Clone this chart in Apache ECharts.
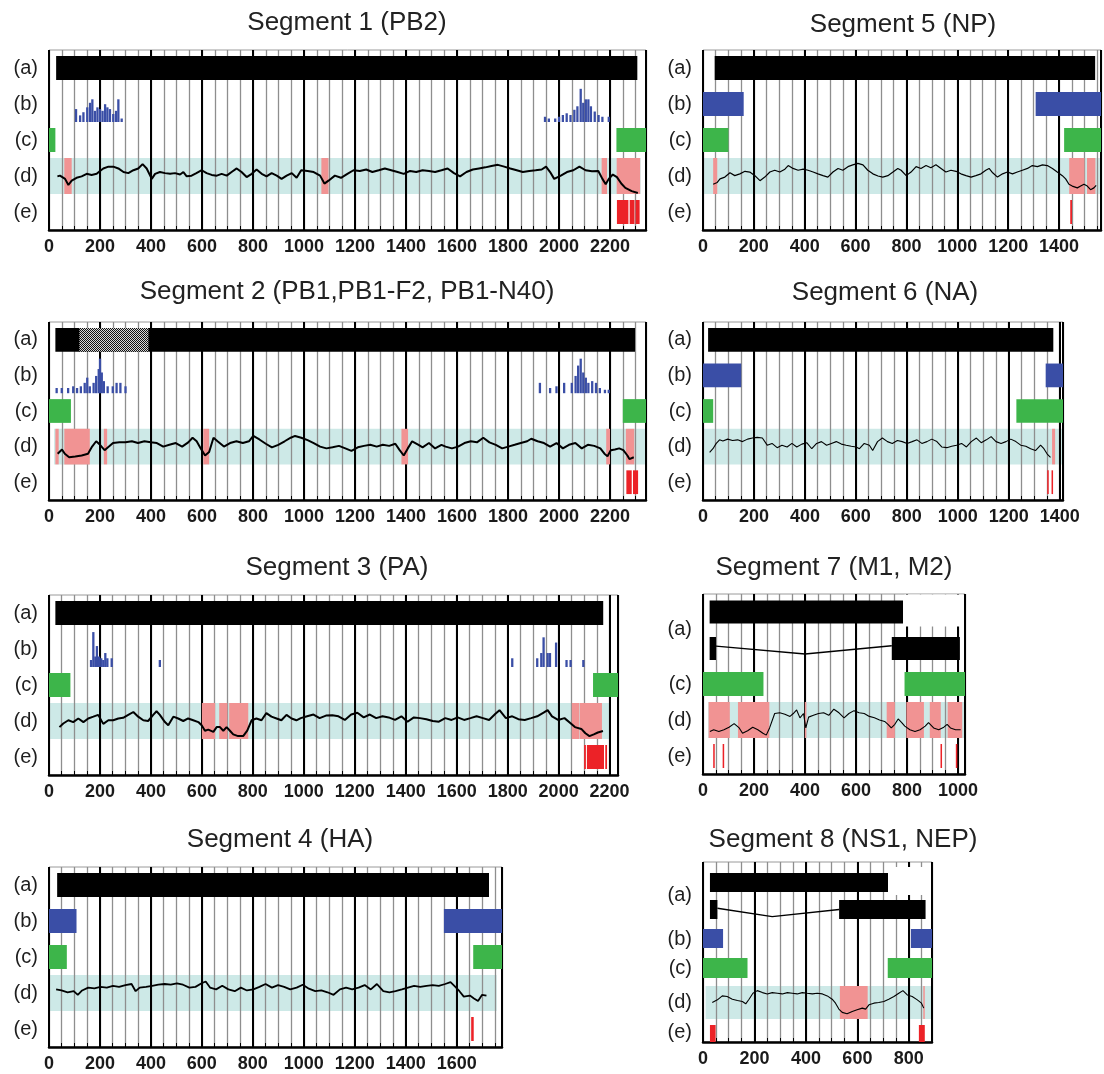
<!DOCTYPE html>
<html><head><meta charset="utf-8">
<script src="https://cdn.jsdelivr.net/npm/echarts@6/dist/echarts.min.js"></script>
<style>html,body{margin:0;padding:0;background:#fff}#c{width:1104px;height:1074px}</style>
</head><body><div id="c"></div>
<script>
// ================= DATA =================
const titles = ['Segment 1 (PB2)','Segment 2 (PB1,PB1-F2, PB1-N40)','Segment 3 (PA)','Segment 4 (HA)',
                'Segment 5 (NP)','Segment 6 (NA)','Segment 7 (M1, M2)','Segment 8 (NS1, NEP)'];
const lengths = [2341, 2341, 2233, 1778, 1565, 1413, 1027, 890];
const tickStep = 200, minorStep = 50;

// Segment 1 (PB2)
const seg1Coding = [[28,2307]];
const seg1Hist = [[106,.37],[122,.19],[135,.28],[150,.42],[161,.55],[170,.65],[180,.32],[190,.42],[200,.37],[210,.32],[220,.51],[229,.42],[239,.37],[252,.23],[263,.32],[272,.65],[285,.10],
  [1945,.15],[1960,.10],[1985,.10],[2000,.15],[2015,.20],[2030,.25],[2045,.20],[2060,.35],[2072,.45],[2085,.95],[2095,.55],[2105,.65],[2115,.65],[2125,.45],[2140,.30],[2155,.20],[2170,.15],[2195,.15]];
const seg1Green = [[0,25],[2225,2341]];
const seg1Band = [[0,2320]];
const seg1Pink = [[60,89],[1068,1096],[2167,2188],[2226,2318]];
const seg1Red = [[2227,2272],[2277,2296],[2300,2316]];
const seg1Curve = [[33,.49],[43,.51],[63,.42],[76,.25],[89,.37],[108,.45],[128,.49],[148,.56],[167,.53],[187,.56],[200,.64],[213,.71],[233,.76],[252,.76],[272,.71],[292,.61],[311,.58],[331,.66],[350,.71],[367,.83],[383,.71],[403,.42],[416,.56],[435,.61],[455,.58],[475,.56],[494,.58],[514,.54],[527,.61],[540,.49],[559,.51],[578,.58],[599,.66],[618,.58],[638,.53],[658,.51],[677,.56],[697,.51],[716,.61],[736,.71],[755,.61],[775,.47],[795,.56],[814,.68],[834,.56],[853,.49],[873,.58],[893,.51],[912,.42],[932,.51],[952,.58],[971,.45],[989,.66],[1014,.64],[1038,.61],[1063,.51],[1080,.29],[1096,.37],[1121,.51],[1145,.45],[1170,.56],[1194,.66],[1219,.64],[1244,.68],[1268,.61],[1293,.66],[1317,.71],[1342,.66],[1367,.61],[1391,.56],[1416,.64],[1440,.61],[1465,.66],[1490,.64],[1514,.61],[1539,.66],[1563,.71],[1588,.58],[1612,.49],[1637,.61],[1662,.68],[1686,.71],[1711,.74],[1735,.78],[1760,.81],[1785,.76],[1809,.71],[1834,.66],[1858,.61],[1883,.64],[1908,.66],[1932,.68],[1949,.76],[1965,.61],[1981,.42],[2007,.51],[2031,.61],[2056,.66],[2080,.76],[2104,.66],[2129,.63],[2154,.64],[2170,.42],[2183,.27],[2195,.42],[2211,.54],[2227,.47],[2244,.29],[2260,.17],[2285,.08],[2309,.03]];

// Segment 2 (PB1, PB1-F2, PB1-N40)
const seg2Coding = [[25,2298]];
const seg2Overlap = [[119,390]];
const seg2Hist = [[30,.15],[50,.15],[75,.15],[95,.2],[110,.15],[125,.2],[140,.3],[150,.45],[160,.2],[175,.3],[185,.5],[195,.7],[200,1.0],[207,.6],[215,.35],[230,.2],[250,.2],[265,.3],[280,.3],[300,.2],
  [1925,.3],[1965,.15],[1990,.2],[2020,.3],[2050,.3],[2065,.5],[2075,.8],[2085,1.0],[2095,.6],[2105,.45],[2115,.3],[2130,.35],[2145,.3],[2160,.15],[2180,.1],[2195,.1]];
const seg2Green = [[0,86],[2250,2341]];
const seg2Band = [[20,2341]];
const seg2Pink = [[25,38],[60,160],[215,228],[605,628],[1382,1408],[2185,2200],[2262,2295]];
const seg2Red = [[2264,2285],[2290,2310]];
const seg2Curve = [[34,.30],[51,.42],[62,.30],[79,.20],[103,.22],[128,.25],[153,.30],[169,.50],[185,.65],[200,.55],[218,.40],[235,.50],[251,.60],[276,.62],[300,.62],[325,.65],[349,.60],[374,.65],[399,.62],[423,.60],[448,.50],[472,.55],[497,.60],[522,.50],[546,.62],[563,.75],[579,.65],[595,.45],[612,.25],[628,.35],[645,.75],[661,.65],[686,.50],[710,.60],[735,.65],[760,.60],[784,.65],[801,.80],[825,.70],[850,.58],[874,.48],[899,.55],[924,.65],[948,.75],[965,.80],[989,.75],[1014,.68],[1038,.60],[1063,.50],[1088,.45],[1112,.48],[1137,.52],[1162,.45],[1186,.38],[1211,.48],[1235,.52],[1260,.55],[1285,.50],[1309,.55],[1334,.52],[1358,.58],[1375,.40],[1391,.25],[1407,.45],[1424,.65],[1449,.55],[1465,.48],[1490,.60],[1514,.45],[1539,.55],[1555,.50],[1580,.45],[1604,.50],[1629,.60],[1654,.65],[1678,.62],[1703,.75],[1727,.62],[1752,.55],[1777,.45],[1801,.50],[1826,.55],[1850,.60],[1875,.65],[1891,.72],[1916,.65],[1941,.60],[1965,.50],[1990,.60],[2015,.45],[2039,.55],[2064,.60],[2089,.45],[2113,.55],[2138,.52],[2162,.45],[2178,.30],[2190,.23],[2203,.40],[2219,.42],[2236,.45],[2252,.40],[2268,.25],[2276,.15],[2293,.20]];

// Segment 3 (PA)
const seg3Coding = [[25,2175]];
const seg3Hist = [[165,.2],[174,1.0],[182,.3],[188,.6],[196,.3],[205,.25],[213,.2],[221,.4],[229,.25],[246,.25],[435,.2],
  [1818,.25],[1916,.25],[1932,.4],[1941,.85],[1957,.4],[1966,.4],[1990,.7],[2031,.2],[2047,.2],[2097,.2]];
const seg3Green = [[0,84],[2135,2233]];
const seg3Band = [[0,2205]];
const seg3Pink = [[600,652],[668,700],[707,782],[2052,2080],[2082,2170]];
const seg3Red = [[2100,2107],[2111,2178],[2183,2190]];
const seg3Curve = [[41,.33],[56,.43],[76,.52],[95,.47],[115,.57],[135,.47],[154,.57],[174,.62],[193,.67],[213,.42],[233,.52],[252,.52],[272,.57],[291,.59],[311,.67],[331,.75],[350,.62],[370,.52],[389,.50],[409,.67],[422,.77],[435,.67],[455,.47],[468,.38],[488,.62],[507,.57],[527,.50],[546,.57],[566,.52],[586,.47],[599,.38],[612,.23],[625,.26],[645,.20],[658,.33],[671,.33],[684,.23],[697,.33],[710,.23],[723,.13],[742,.08],[762,.08],[778,.23],[795,.52],[814,.57],[834,.52],[853,.72],[873,.62],[893,.57],[912,.52],[932,.67],[952,.57],[971,.52],[988,.58],[1013,.63],[1038,.68],[1062,.58],[1087,.65],[1112,.66],[1136,.63],[1161,.53],[1186,.68],[1210,.73],[1235,.60],[1259,.68],[1284,.58],[1309,.63],[1333,.60],[1358,.53],[1383,.63],[1407,.48],[1432,.60],[1456,.58],[1481,.55],[1506,.50],[1530,.48],[1555,.58],[1580,.53],[1604,.60],[1629,.53],[1654,.58],[1678,.63],[1703,.58],[1727,.53],[1752,.70],[1768,.80],[1793,.58],[1818,.63],[1842,.55],[1867,.53],[1892,.58],[1916,.63],[1941,.73],[1957,.80],[1974,.63],[1998,.53],[2023,.58],[2048,.43],[2064,.33],[2089,.28],[2105,.16],[2121,.08],[2138,.13],[2154,.18],[2174,.22]];

// Segment 4 (HA)
const seg4Coding = [[32,1727]];
const seg4Blue = [[0,108],[1550,1778]];
const seg4Green = [[0,70],[1665,1778]];
const seg4Band = [[0,1757]];
const seg4Red = [[1657,1667]];
const seg4Curve = [[28,.60],[49,.57],[73,.52],[97,.55],[113,.45],[130,.57],[154,.65],[178,.63],[202,.67],[227,.65],[251,.70],[275,.67],[300,.72],[324,.75],[340,.55],[356,.65],[381,.67],[405,.70],[429,.73],[454,.75],[478,.73],[502,.77],[526,.73],[551,.65],[575,.67],[599,.77],[615,.82],[632,.65],[656,.60],[680,.70],[704,.60],[729,.55],[753,.65],[777,.57],[802,.60],[826,.67],[850,.75],[875,.65],[899,.72],[923,.67],[947,.60],[972,.65],[996,.73],[1020,.62],[1045,.55],[1069,.57],[1093,.52],[1117,.45],[1142,.60],[1166,.65],[1190,.60],[1215,.65],[1239,.72],[1263,.60],[1287,.75],[1312,.55],[1336,.52],[1360,.55],[1385,.60],[1409,.65],[1433,.70],[1457,.67],[1482,.70],[1506,.72],[1530,.70],[1555,.75],[1576,.80],[1595,.67],[1611,.55],[1628,.40],[1652,.43],[1668,.35],[1684,.28],[1700,.45],[1717,.43]];

// Segment 5 (NP)
const seg5Coding = [[46,1542]];
const seg5Blue = [[0,160],[1308,1565]];
const seg5Green = [[0,100],[1420,1565]];
const seg5Band = [[0,1565]];
const seg5Pink = [[40,56],[1440,1500],[1510,1543]];
const seg5Red = [[1444,1451]];
const seg5Curve = [[40,.27],[56,.32],[67,.42],[86,.47],[106,.59],[125,.51],[145,.56],[165,.63],[184,.61],[204,.51],[224,.37],[243,.47],[263,.61],[282,.66],[302,.61],[322,.69],[335,.79],[354,.71],[374,.66],[394,.69],[413,.66],[433,.61],[452,.56],[472,.51],[491,.47],[511,.61],[531,.71],[550,.66],[570,.76],[589,.81],[609,.85],[629,.81],[648,.66],[668,.56],[688,.50],[707,.47],[727,.51],[747,.61],[766,.71],[779,.66],[799,.51],[818,.61],[838,.76],[857,.71],[877,.79],[896,.73],[916,.81],[936,.71],[955,.61],[975,.66],[995,.63],[1014,.56],[1034,.51],[1054,.47],[1073,.51],[1093,.56],[1112,.66],[1125,.71],[1139,.59],[1158,.47],[1178,.56],[1197,.61],[1217,.56],[1236,.61],[1256,.66],[1276,.71],[1295,.79],[1315,.76],[1335,.81],[1354,.79],[1374,.71],[1393,.61],[1413,.51],[1426,.42],[1439,.27],[1452,.22],[1472,.17],[1485,.22],[1498,.27],[1511,.22],[1524,.12],[1537,.17],[1546,.24]];

// Segment 6 (NA)
const seg6Coding = [[20,1375]];
const seg6Blue = [[0,150],[1345,1413]];
const seg6Green = [[0,40],[1230,1413]];
const seg6Band = [[0,1410]];
const seg6Pink = [[1370,1382]];
const seg6Red = [[1351,1357],[1368,1374]];
const seg6Curve = [[26,.34],[39,.44],[52,.59],[65,.69],[78,.66],[97,.71],[116,.67],[136,.69],[155,.64],[175,.71],[194,.74],[213,.76],[233,.74],[252,.54],[271,.59],[291,.47],[310,.54],[330,.49],[349,.59],[368,.49],[388,.57],[407,.61],[427,.44],[446,.59],[465,.64],[485,.54],[504,.59],[523,.64],[543,.57],[562,.54],[582,.51],[601,.49],[614,.44],[633,.59],[653,.54],[666,.39],[685,.64],[704,.74],[724,.64],[743,.59],[763,.67],[782,.64],[801,.59],[821,.64],[840,.69],[859,.59],[879,.64],[898,.71],[918,.64],[937,.49],[957,.47],[976,.51],[995,.54],[1015,.59],[1034,.49],[1053,.64],[1073,.74],[1092,.61],[1112,.69],[1131,.78],[1150,.64],[1170,.59],[1189,.64],[1208,.71],[1228,.64],[1247,.54],[1267,.51],[1286,.44],[1305,.39],[1325,.54],[1338,.44],[1351,.29],[1364,.20]];

// Segment 7 (M1, M2)
const seg7M1 = [[26,784]];
const seg7M1Blank = [[790,1020]];
const seg7M2Exons = [[26,51],[740,1007]];
const seg7M2Intron = [[51,-0.2],[400,0.48],[740,-0.24]];
const seg7Green = [[0,237],[790,1027]];
const seg7Band = [[20,1027]];
const seg7Pink = [[22,105],[137,260],[399,405],[720,752],[797,866],[889,932],[959,1016]];
const seg7Red = [[40,46],[77,83],[931,937],[991,997]];
const seg7Curve = [[27,.18],[42,.23],[62,.18],[82,.23],[102,.30],[122,.40],[142,.28],[155,.13],[175,.20],[195,.30],[215,.23],[235,.13],[248,.08],[261,.28],[281,.68],[301,.70],[321,.66],[341,.60],[354,.68],[367,.78],[380,.56],[394,.68],[403,.28],[414,.58],[433,.63],[453,.68],[473,.70],[493,.63],[513,.80],[533,.70],[553,.56],[572,.68],[592,.76],[612,.70],[632,.68],[652,.60],[672,.56],[692,.50],[712,.46],[725,.38],[738,.28],[752,.38],[765,.53],[779,.43],[791,.33],[811,.23],[831,.18],[851,.23],[871,.33],[884,.43],[904,.28],[924,.23],[944,.30],[957,.38],[970,.28],[990,.23],[1010,.23]];

// Segment 8 (NS1, NEP)
const seg8NS1 = [[27,719]];
const seg8NS1Blank = [[724,872]];
const seg8NEPExons = [[27,56],[529,865]];
const seg8NEPIntron = [[56,-0.13],[269,0.76],[529,0]];
const seg8Blue = [[0,78],[808,890]];
const seg8Green = [[0,173],[718,890]];
const seg8Band = [[10,890]];
const seg8Pink = [[532,640],[856,862]];
const seg8Red = [[27,49],[839,862]];
const seg8Curve = [[36,.50],[56,.58],[75,.70],[94,.68],[114,.60],[134,.56],[153,.53],[166,.46],[179,.60],[194,.78],[211,.86],[231,.80],[250,.76],[269,.80],[289,.78],[308,.76],[328,.80],[347,.78],[366,.76],[386,.80],[405,.78],[425,.76],[444,.78],[464,.76],[483,.70],[502,.60],[515,.48],[528,.30],[541,.20],[560,.16],[580,.23],[599,.28],[619,.33],[632,.30],[645,.43],[664,.48],[683,.50],[703,.53],[722,.60],[742,.68],[761,.78],[777,.86],[794,.73],[813,.68],[833,.58],[849,.48],[858,.33]];

// ================= LAYOUT / STYLE =================
const FONT = '"Liberation Sans", Arial, Helvetica, sans-serif';
const K = {black:0, blue:1, green:2, pink:3, red:4, hatch:5, white:6, cyan:7};
const hatchCanvas = document.createElement('canvas');
hatchCanvas.width = 4; hatchCanvas.height = 4;
(function(){ const g = hatchCanvas.getContext('2d'); g.fillStyle = '#d8d8d8'; g.fillRect(0,0,4,4); g.fillStyle = '#111';
  for (let y=0;y<4;y++) for (let x=0;x<4;x++) if ((x+y)%2===0) g.fillRect(x,y,1,1); })();
const FILLS = ['#000000','#3a4ea6','#3db54a','#f19393','#ec2227',{image:hatchCanvas, repeat:'repeat'},'#ffffff','#cde9e7'];

function stdRows(H){ const rh = H/5; return {
  a:{c:rh*0.5,h:rh/3}, b:{c:rh*1.5,h:rh/3,base:rh*2,full:rh*0.97}, c:{c:rh*2.5,h:rh/3},
  d:{top:rh*3,bot:rh*4}, e:{c:rh*4.5,h:rh/3},
  labels:[['(a)',rh*0.5],['(b)',rh*1.5],['(c)',rh*2.5],['(d)',rh*3.5],['(e)',rh*4.5]] }; }
const seg7Rows = { a:{c:18,h:11.5}, a2:{c:54.5,h:11.5}, c:{c:90,h:12}, d:{top:108,bot:144}, e:{c:162,h:12},
  labels:[['(a)',35],['(c)',90],['(d)',126],['(e)',162]] };
const seg8Rows = { a:{c:20.5,h:9.5}, a2:{c:47.5,h:9.5}, b:{c:76.5,h:9.5}, c:{c:106,h:10}, d:{top:124,bot:157}, e:{c:171.5,h:8.5},
  labels:[['(a)',33],['(b)',77],['(c)',106],['(d)',140.5],['(e)',170]] };

const panels = [
  {left:49, top:50,  width:597, height:180, tx:347, ty:23,  lw:2,   rows:stdRows(180),
   a:seg1Coding, hist:seg1Hist, green:seg1Green, band:seg1Band, pink:seg1Pink, red:seg1Red, curve:seg1Curve},
  {left:49, top:322, width:597, height:178, tx:347, ty:292, lw:2,   rows:stdRows(178),
   a:seg2Coding, hatch:seg2Overlap, hist:seg2Hist, green:seg2Green, band:seg2Band, pink:seg2Pink, red:seg2Red, curve:seg2Curve},
  {left:49, top:595, width:569, height:180, tx:337, ty:568, lw:2,   rows:stdRows(180),
   a:seg3Coding, hist:seg3Hist, green:seg3Green, band:seg3Band, pink:seg3Pink, red:seg3Red, curve:seg3Curve},
  {left:49, top:867, width:453, height:180, tx:280, ty:840, lw:1.8, rows:stdRows(180),
   a:seg4Coding, blue:seg4Blue, green:seg4Green, band:seg4Band, red:seg4Red, curve:seg4Curve},
  {left:703, top:50,  width:399, height:180, tx:903, ty:25,  lw:1.2, rows:stdRows(180),
   a:seg5Coding, blue:seg5Blue, green:seg5Green, band:seg5Band, pink:seg5Pink, red:seg5Red, curve:seg5Curve},
  {left:703, top:322, width:360, height:178, tx:885, ty:293, lw:1.1, rows:stdRows(178),
   a:seg6Coding, blue:seg6Blue, green:seg6Green, band:seg6Band, pink:seg6Pink, red:seg6Red, curve:seg6Curve},
  {left:703, top:594, width:262, height:180, tx:834, ty:568, lw:1.1, rows:seg7Rows,
   a:seg7M1, blank:seg7M1Blank, a2:seg7M2Exons, intron:seg7M2Intron, green:seg7Green, band:seg7Band, pink:seg7Pink, red:seg7Red, curve:seg7Curve},
  {left:703, top:862, width:229, height:180, tx:843, ty:840, lw:1.1, rows:seg8Rows,
   a:seg8NS1, blank:seg8NS1Blank, a2:seg8NEPExons, intron:seg8NEPIntron, blue:seg8Blue, green:seg8Green, band:seg8Band, pink:seg8Pink, red:seg8Red, curve:seg8Curve}
];

function rectRenderer(params, api){
  const p0 = api.coord([api.value(0), api.value(2)]);
  const p1 = api.coord([api.value(1), api.value(3)]);
  return {type:'rect', shape:{x:p0[0], y:p0[1], width:Math.max(p1[0]-p0[0],1.2), height:p1[1]-p0[1]},
          style:{fill: FILLS[api.value(4)]}};
}

const grid = [], xAxis = [], yAxis = [], series = [], graphic = [];
panels.forEach((P, i) => {
  const len = lengths[i], R = P.rows;
  grid.push({left:P.left, top:P.top, width:P.width, height:P.height, show:true, borderColor:'#9a9a9a', borderWidth:1});
  // minor grid (every 50)
  xAxis.push({type:'value', gridIndex:i, min:0, max:len, interval:minorStep, position:'bottom', z:1,
    axisLine:{show:false, onZero:false}, axisLabel:{show:false},
    axisTick:{show:true, inside:true, length:4, lineStyle:{color:'#000', width:1}},
    splitLine:{show:true, lineStyle:{color:'#8e8e8e', width:1.3}}});
  // major grid (every 200) with labels
  xAxis.push({type:'value', gridIndex:i, min:0, max:len, interval:tickStep, position:'bottom', z:1,
    axisLine:{show:true, onZero:false, lineStyle:{color:'#000', width:2.5}}, axisTick:{show:false},
    axisLabel:{show:true, margin:8, fontSize:18, fontWeight:'bold', color:'#1a1a1a', fontFamily:FONT,
      formatter: v => (Math.abs(v % tickStep) < 1e-6 ? String(v) : '')},
    splitLine:{show:true, lineStyle:{color:'#000', width:2}}});
  yAxis.push({type:'value', gridIndex:i, min:0, max:P.height, inverse:true, show:false});
  const xi = 2*i + 1;

  const bar = (row, r, k) => [r[0], r[1], row.c - row.h, row.c + row.h, k];
  const rects = [];
  (P.a||[]).forEach(r => rects.push(bar(R.a, r, K.black)));
  (P.hatch||[]).forEach(r => rects.push(bar(R.a, r, K.hatch)));
  (P.blank||[]).forEach(r => rects.push([r[0], r[1], R.a.c - R.a.h - 6, R.a.c + R.a.h + 3, K.white]));
  (P.a2||[]).forEach(r => rects.push(bar(R.a2, r, K.black)));
  (P.blue||[]).forEach(r => rects.push(bar(R.b, r, K.blue)));
  (P.hist||[]).forEach(h => rects.push([h[0]-4.5, h[0]+4.5, R.b.base - h[1]*R.b.full, R.b.base, K.blue]));
  (P.green||[]).forEach(r => rects.push(bar(R.c, r, K.green)));
  (P.pink||[]).forEach(r => rects.push([r[0], r[1], R.d.top, R.d.bot, K.pink]));
  (P.red||[]).forEach(r => rects.push(bar(R.e, r, K.red)));

  series.push({type:'custom', xAxisIndex:xi, yAxisIndex:i, z:0, silent:true, renderItem:rectRenderer,
    encode:{x:[0,1], y:[2,3]}, data:(P.band||[]).map(r => [r[0], r[1], R.d.top, R.d.bot, K.cyan])});
  series.push({type:'custom', xAxisIndex:xi, yAxisIndex:i, z:2, silent:true, renderItem:rectRenderer,
    encode:{x:[0,1], y:[2,3]}, data:rects});
  const dh = R.d.bot - R.d.top;
  series.push({type:'line', xAxisIndex:xi, yAxisIndex:i, z:3, silent:true, showSymbol:false, symbol:'none',
    lineStyle:{color:'#000', width:P.lw}, data:P.curve.map(p => [p[0], R.d.bot - p[1]*dh])});
  if (P.intron) {
    series.push({type:'line', xAxisIndex:xi, yAxisIndex:i, z:3, silent:true, showSymbol:false, symbol:'none',
      lineStyle:{color:'#000', width:1.3}, data:P.intron.map(p => [p[0], R.a2.c + p[1]*R.a2.h])});
  }
  const labs = R.labels;
  series.push({type:'custom', xAxisIndex:xi, yAxisIndex:i, z:4, silent:true, clip:false,
    data:labs.map(l => [0, l[1]]),
    renderItem:(params, api) => {
      const p = api.coord([0, api.value(1)]);
      return {type:'text', x:p[0]-11, y:p[1],
        style:{text:labs[params.dataIndex][0], font:'20px '+FONT, fill:'#1e1e1e',
               textAlign:'right', textVerticalAlign:'middle', align:'right', verticalAlign:'middle'}};
    }});
  graphic.push({type:'text', x:P.tx, y:P.ty, silent:true,
    style:{text:titles[i], font:'26px '+FONT, fill:'#222', textAlign:'center', textVerticalAlign:'middle',
           align:'center', verticalAlign:'middle'}});
});

const chart = echarts.init(document.getElementById('c'), null, {renderer:'canvas'});
chart.setOption({animation:false, backgroundColor:'#fff', grid, xAxis, yAxis, series, graphic});
</script></body></html>
